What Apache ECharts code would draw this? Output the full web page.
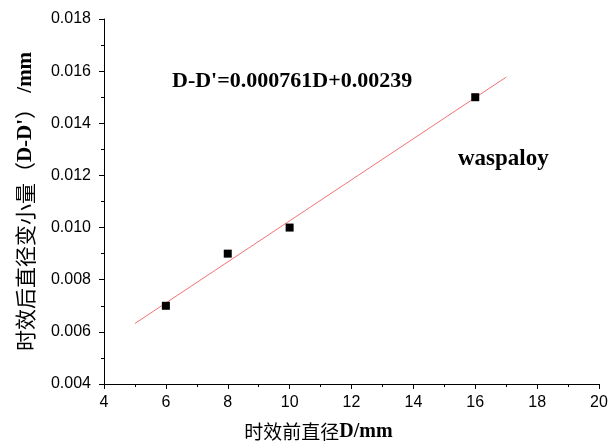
<!DOCTYPE html>
<html>
<head>
<meta charset="utf-8">
<script src="https://cdn.jsdelivr.net/npm/echarts@6/dist/echarts.min.js"></script>
<style>
html,body{margin:0;padding:0;background:#fff;}
#chart{width:613px;height:447px;}
</style>
</head>
<body>
<div id="chart"></div>
<script>
// Data
const diameters = [6, 8, 10, 16];
const shrinkage = [0.007, 0.009, 0.010, 0.015];
const fitX = [5, 17];
const fitY = [0.00632, 0.01577];
const xTicks = [4, 6, 8, 10, 12, 14, 16, 18, 20];
const yTicks = [0.004, 0.006, 0.008, 0.010, 0.012, 0.014, 0.016, 0.018];
const equationText = "D-D'=0.000761D+0.00239";
const alloyText = "waspaloy";

const chart = echarts.init(document.getElementById('chart'), null, {renderer: 'canvas'});

const sans = '"Liberation Sans", Arial, sans-serif';
const cjk = '"Noto Sans CJK SC", sans-serif';
const serif = '"Liberation Serif", "Times New Roman", serif';

chart.setOption({
  animation: false,
  backgroundColor: '#fff',
  grid: {left: 104, right: 14, top: 19, bottom: 62, containLabel: false},
  xAxis: {
    type: 'value',
    min: xTicks[0], max: xTicks[xTicks.length - 1], interval: 2,
    axisLine: {show: true, lineStyle: {color: '#000', width: 1}},
    axisTick: {show: true, inside: false, length: 5, lineStyle: {color: '#000'}},
    minorTick: {show: true, splitNumber: 2, length: 3, lineStyle: {color: '#000'}},
    splitLine: {show: false},
    axisLabel: {color: '#000', fontFamily: sans, fontSize: 16, margin: 11},
    name: '{c|时效前直径}{b|D/mm}',
    nameLocation: 'middle',
    nameGap: 38,
    nameTextStyle: {
      padding: [0, 66, 0, 0],
      rich: {
        c: {fontFamily: cjk, fontSize: 19, color: '#000'},
        b: {fontFamily: serif, fontSize: 20, fontWeight: 'bold', color: '#000'}
      }
    }
  },
  yAxis: {
    type: 'value',
    min: yTicks[0], max: yTicks[yTicks.length - 1], interval: 0.002,
    axisLine: {show: true, lineStyle: {color: '#000', width: 1}},
    axisTick: {show: true, inside: false, length: 5, lineStyle: {color: '#000'}},
    minorTick: {show: true, splitNumber: 2, length: 3, lineStyle: {color: '#000'}},
    splitLine: {show: false},
    axisLabel: {color: '#000', fontFamily: sans, fontSize: 16, margin: 13,
      formatter: v => v.toFixed(3)},
    name: "{c|时效后直径变小量（}{b|D-D'}{c|）}{b| /mm}",
    nameLocation: 'middle',
    nameGap: 68,
    nameTextStyle: {
      rich: {
        c: {fontFamily: cjk, fontSize: 21, color: '#000'},
        b: {fontFamily: serif, fontSize: 21, fontWeight: 'bold', color: '#000'}
      }
    }
  },
  series: [
    {
      type: 'line',
      data: fitX.map((x, i) => [x, fitY[i]]),
      showSymbol: false,
      symbol: 'none',
      lineStyle: {color: '#f47373', width: 1},
      z: 1
    },
    {
      type: 'scatter',
      data: diameters.map((x, i) => [x, shrinkage[i]]),
      symbol: 'rect',
      symbolSize: 8,
      itemStyle: {color: '#000', opacity: 1},
      z: 2
    }
  ],
  graphic: [
    {
      type: 'text', left: 172, top: 70,
      style: {text: equationText, font: 'bold 22px ' + serif, fill: '#000'}
    },
    {
      type: 'text', left: 458, top: 148,
      style: {text: alloyText, font: 'bold 23px ' + serif, fill: '#000'}
    }
  ]
});
</script>
</body>
</html>
